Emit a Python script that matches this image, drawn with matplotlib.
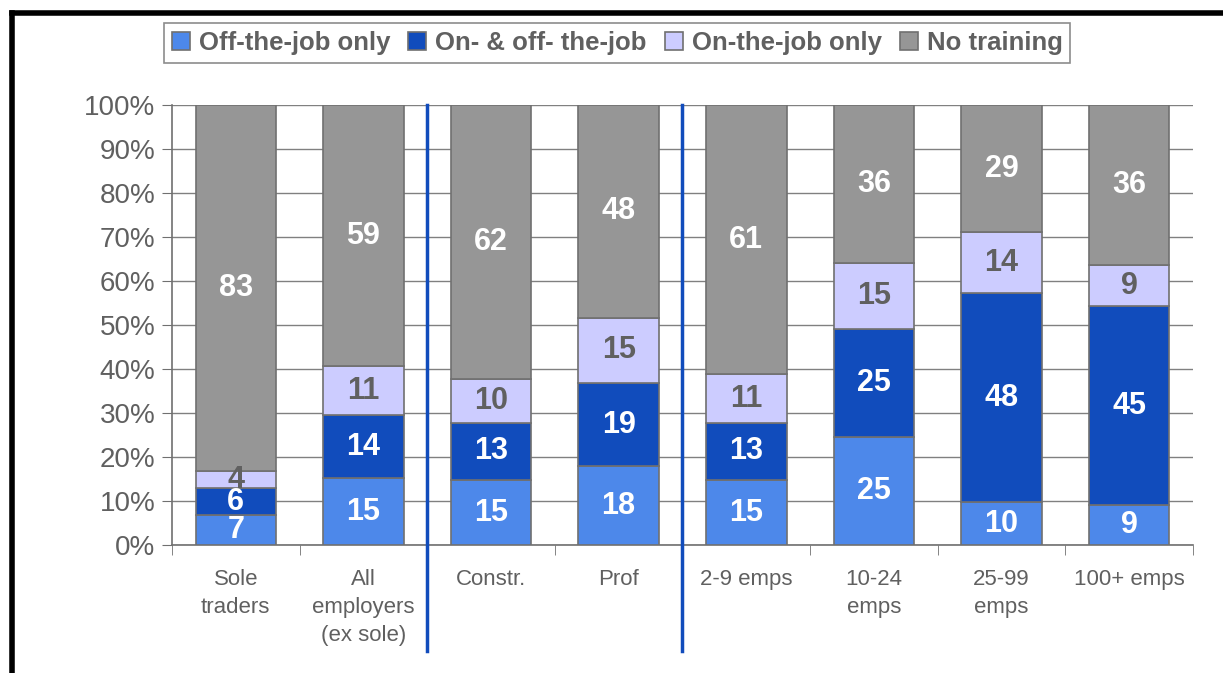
import matplotlib.pyplot as plt
import numpy as np
from matplotlib.lines import Line2D

plt.rcParams['font.family'] = ['Liberation Sans', 'DejaVu Sans']

categories = ["Sole\ntraders", "All\nemployers\n(ex sole)", "Constr.", "Prof",
              "2-9 emps", "10-24\nemps", "25-99\nemps", "100+ emps"]
# percentages (labels show them rounded)
off_only = [6.8, 15.2, 14.8, 17.9, 14.8, 24.6, 9.7, 9.1]
on_off = [6.1, 14.3, 13.0, 19.0, 13.0, 24.6, 47.6, 45.2]
on_only = [4.0, 11.1, 10.0, 14.8, 11.0, 14.9, 13.8, 9.3]
no_training = [83.1, 59.4, 62.2, 48.3, 61.2, 35.9, 28.9, 36.4]

series = [
    ("Off-the-job only", off_only, "#4d88ea", "white"),
    ("On- & off- the-job", on_off, "#114cbc", "white"),
    ("On-the-job only", on_only, "#ccccff", "#606060"),
    ("No training", no_training, "#969696", "white"),
]

fig = plt.figure(figsize=(12.23, 6.73), dpi=100)
ax = fig.add_axes([0.1406, 0.19, 0.8349, 0.654])

x = np.arange(len(categories))
bottom = np.zeros(len(categories))
for name, vals, col, tcol in series:
    vals = np.array(vals, dtype=float)
    ax.bar(x, vals, 0.63, bottom=bottom, color=col, edgecolor="#707070",
           linewidth=1.2, label=name, zorder=3)
    for xi, b, v in zip(x, bottom, vals):
        ax.text(xi, b + v / 2, f"{v:.0f}", ha="center", va="center", color=tcol,
                fontsize=22, fontweight="bold", zorder=4)
    bottom += vals

ax.set_xlim(-0.5, len(categories) - 0.5)
ax.set_ylim(0, 100)
ax.set_yticks(np.arange(0, 101, 10))
ax.set_yticklabels([f"{v}%" for v in range(0, 101, 10)])
ax.yaxis.grid(True, color="#808080", linewidth=1, zorder=0)
ax.set_axisbelow(True)

ax.set_xticks(x)
ax.set_xticklabels(categories, linespacing=1.45)
ax.set_xticks(np.arange(-0.5, len(categories), 1), minor=True)
ax.tick_params(axis="x", which="major", length=0, pad=17, labelsize=16, labelcolor="#606060")
ax.tick_params(axis="x", which="minor", length=7, color="#707070", direction="out")
ax.tick_params(axis="y", length=7, color="#707070", labelsize=20, labelcolor="#606060", pad=5)

for s in ["top", "right"]:
    ax.spines[s].set_visible(False)
for s in ["left", "bottom"]:
    ax.spines[s].set_color("#707070")
    ax.spines[s].set_linewidth(1.2)

# separators between groups
for sx in [1.5, 3.5]:
    ax.axvline(sx, ymin=-0.24, ymax=1, color="#114cbc", linewidth=2.5,
               clip_on=False, zorder=5)

leg = ax.legend(loc="upper center", bbox_to_anchor=(0.436, 1.186), ncol=4,
                frameon=True, fancybox=False, edgecolor="#707070",
                handlelength=0.7, handleheight=0.7, handletextpad=0.35,
                columnspacing=0.7, borderpad=0.3, borderaxespad=0,
                prop={"size": 18.5, "weight": "bold"})
leg.get_frame().set_linewidth(1.2)
for t in leg.get_texts():
    t.set_color("#606060")
for h in leg.legend_handles:
    h.set_edgecolor("#707070")

# black frame at top and left
fig.add_artist(Line2D([0.0098, 1.0], [0.981, 0.981], color="black", linewidth=4,
                      transform=fig.transFigure))
fig.add_artist(Line2D([0.0098, 0.0098], [0.0, 0.981], color="black", linewidth=4,
                      transform=fig.transFigure))

fig.savefig("out.png", dpi=100)
